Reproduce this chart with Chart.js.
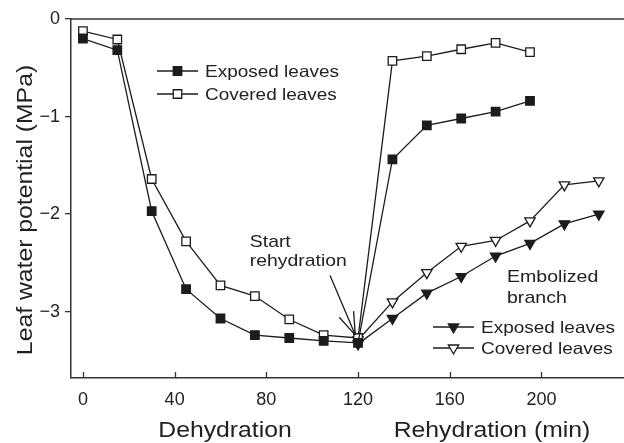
<!DOCTYPE html>
<html>
<head>
<meta charset="utf-8">
<script src="https://cdn.jsdelivr.net/npm/chart.js@4.4.1/dist/chart.umd.min.js"></script>
<style>
  html, body { margin: 0; padding: 0; background: #fff; }
  #chart { display: block; }
</style>
</head>
<body>
<canvas id="chart" width="624" height="443"></canvas>
<script>
// time points (min)
const dehydMin = [0, 15, 30, 45, 60, 75, 90, 105, 120];
const rehydMin = [135, 150, 165, 180, 195];
const embolMin = [120, 135, 150, 165, 180, 195, 210, 225];

// leaf water potential (MPa)
const exposedDehyd = [-0.20, -0.32, -1.97, -2.77, -3.07, -3.24, -3.27, -3.30, -3.32];
const exposedRehyd = [-1.44, -1.09, -1.02, -0.95, -0.84];
const coveredDehyd = [-0.125, -0.21, -1.64, -2.28, -2.73, -2.84, -3.08, -3.24, -3.27];
const coveredRehyd = [-0.43, -0.38, -0.31, -0.245, -0.34];
const embolExposed = [-3.33, -3.07, -2.81, -2.64, -2.43, -2.30, -2.10, -2.00];
const embolCovered = [-3.29, -2.90, -2.60, -2.33, -2.27, -2.07, -1.70, -1.66];

const xTicks = [0, 40, 80, 120, 160, 200];
const yTicks = [0, -1, -2, -3];

const ink = '#1c1c1c';
const textCol = '#222';
const FONT = '"Liberation Sans", Arial, Helvetica, sans-serif';

const toPts = (xs, ys) => xs.map((x, i) => ({ x: x, y: ys[i] }));

const lineDs = (label, pts, style, fill, rotation) => ({
    label: label,
    data: pts,
    borderColor: ink,
    borderWidth: 1.3,
    backgroundColor: fill,
    pointBackgroundColor: fill,
    pointBorderColor: ink,
    pointBorderWidth: 1.3,
    pointStyle: style,
    pointRotation: rotation || 0,
    pointRadius: 6,
    tension: 0,
});

// text stretched a bit along its baseline, like the original lettering
function stretchText(ctx, txt, x, y, size, align, sx, rot) {
    ctx.save();
    ctx.translate(x, y);
    if (rot) ctx.rotate(rot);
    ctx.scale(sx, 1);
    ctx.font = size + 'px ' + FONT;
    ctx.fillStyle = textCol;
    ctx.textAlign = align;
    ctx.textBaseline = 'alphabetic';
    ctx.fillText(txt, 0, 0);
    ctx.restore();
}

function legendRow(ctx, x0, x1, y, style, fill, rotation, label) {
    ctx.save();
    ctx.strokeStyle = ink;
    ctx.lineWidth = 1.3;
    ctx.beginPath();
    ctx.moveTo(x0, y);
    ctx.lineTo(x1, y);
    ctx.stroke();
    ctx.fillStyle = fill;
    Chart.helpers.drawPoint(ctx, { pointStyle: style, radius: 6, rotation: rotation, borderWidth: 1.3 }, (x0 + x1) / 2, y);
    ctx.restore();
    stretchText(ctx, label, x1 + 7, y + 6, 16.5, 'left', 1.15);
}

const extras = {
    id: 'extras',
    afterDraw(chart) {
        const ctx = chart.ctx;
        const a = chart.chartArea;
        const xs = chart.scales.x, ys = chart.scales.y;

        // top frame line
        ctx.save();
        ctx.strokeStyle = '#333';
        ctx.lineWidth = 1.5;
        ctx.beginPath();
        ctx.moveTo(a.left, a.top);
        ctx.lineTo(a.right, a.top);
        ctx.stroke();
        // inward x ticks
        ctx.lineWidth = 1.3;
        xTicks.forEach(v => {
            const px = Math.round(xs.getPixelForValue(v)) + 0.5;
            ctx.beginPath();
            ctx.moveTo(px, a.bottom);
            ctx.lineTo(px, a.bottom - 6);
            ctx.stroke();
        });
        ctx.restore();

        // axis titles
        stretchText(ctx, 'Dehydration', 225, 437, 22, 'center', 1.125);
        stretchText(ctx, 'Rehydration (min)', 492, 437, 22, 'center', 1.125);
        stretchText(ctx, 'Leaf water potential (MPa)', 32, 210, 22, 'center', 1.125, -Math.PI / 2);

        // legends
        legendRow(ctx, 157, 198, 71, 'rect', ink, 0, 'Exposed leaves');
        legendRow(ctx, 157, 198, 94, 'rect', '#fff', 0, 'Covered leaves');
        stretchText(ctx, 'Embolized', 507, 282, 17, 'left', 1.15);
        stretchText(ctx, 'branch', 507, 303, 17, 'left', 1.15);
        legendRow(ctx, 433, 474, 327, 'triangle', ink, 180, 'Exposed leaves');
        legendRow(ctx, 433, 474, 348, 'triangle', '#fff', 180, 'Covered leaves');

        // start of rehydration note + arrow
        stretchText(ctx, 'Start', xs.getPixelForValue(72.8), ys.getPixelForValue(-2.34), 17, 'left', 1.14);
        stretchText(ctx, 'rehydration', xs.getPixelForValue(72.8), ys.getPixelForValue(-2.53), 17, 'left', 1.14);
        const tx = xs.getPixelForValue(118.8), ty = ys.getPixelForValue(-3.24);
        const sx0 = xs.getPixelForValue(107.8), sy0 = ys.getPixelForValue(-2.63);
        const ang = Math.atan2(ty - sy0, tx - sx0);
        ctx.save();
        ctx.strokeStyle = ink;
        ctx.lineWidth = 1.3;
        ctx.beginPath();
        ctx.moveTo(sx0, sy0);
        ctx.lineTo(tx, ty);
        [-0.33, 0.33].forEach(d => {
            ctx.moveTo(tx, ty);
            ctx.lineTo(tx - 24 * Math.cos(ang + d), ty - 24 * Math.sin(ang + d));
        });
        ctx.stroke();
        ctx.restore();
    }
};

new Chart(document.getElementById('chart'), {
    type: 'line',
    data: {
        datasets: [
            lineDs('Exposed leaves', toPts(dehydMin.concat(rehydMin), exposedDehyd.concat(exposedRehyd)), 'rect', ink),
            lineDs('Covered leaves', toPts(dehydMin.concat(rehydMin), coveredDehyd.concat(coveredRehyd)), 'rect', '#fff'),
            lineDs('Embolized exposed', toPts(embolMin, embolExposed), 'triangle', ink, 180),
            lineDs('Embolized covered', toPts(embolMin, embolCovered), 'triangle', '#fff', 180),
        ],
    },
    options: {
        responsive: false,
        animation: false,
        devicePixelRatio: 1,
        layout: { autoPadding: false, padding: { top: 19, right: 0, left: 0, bottom: 0 } },
        plugins: {
            legend: { display: false },
            tooltip: { enabled: false },
        },
        scales: {
            x: {
                type: 'linear',
                min: -5.2,
                max: 236,
                afterFit: (s) => { s.height = 65; },
                afterBuildTicks: (s) => { s.ticks = xTicks.map(v => ({ value: v })); },
                grid: { display: false, drawTicks: false },
                border: { display: true, color: '#333', width: 1.5 },
                ticks: {
                    padding: 11,
                    color: textCol,
                    font: { family: FONT, size: 18 },
                    includeBounds: false,
                },
            },
            y: {
                type: 'linear',
                min: -3.68,
                max: 0,
                afterFit: (s) => { s.width = 71; },
                afterBuildTicks: (s) => { s.ticks = yTicks.map(v => ({ value: v })); },
                grid: { drawOnChartArea: false, drawTicks: true, tickLength: 6, color: '#333', lineWidth: 1.3 },
                border: { display: true, color: '#333', width: 1.5 },
                ticks: {
                    padding: 5,
                    color: textCol,
                    font: { family: FONT, size: 18 },
                    includeBounds: false,
                    callback: (v) => v === 0 ? '0' : '\u2212' + Math.abs(v),
                },
            },
        },
    },
    plugins: [extras],
});
</script>
</body>
</html>
